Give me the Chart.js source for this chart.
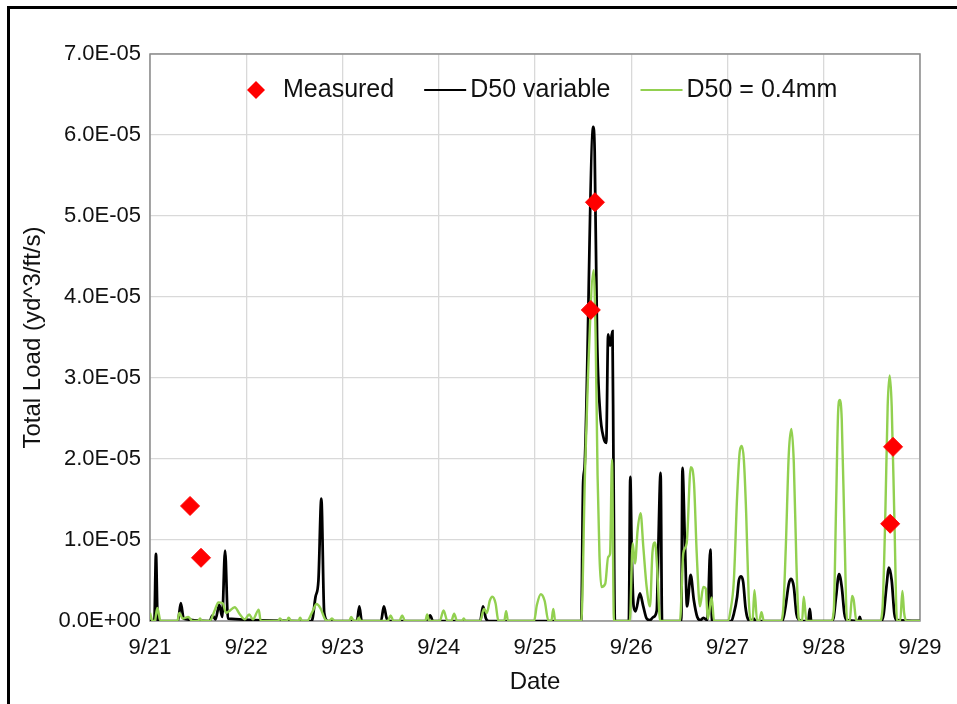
<!DOCTYPE html>
<html>
<head>
<meta charset="utf-8">
<title>Total Load</title>
<script src="https://cdn.jsdelivr.net/npm/chart.js@4.4.0/dist/chart.umd.min.js"></script>
<style>
  html, body { margin: 0; padding: 0; background: #fff; overflow: hidden; }
  #wrap { position: relative; width: 957px; height: 704px; overflow: hidden; }
  #frame { position: absolute; left: 7px; top: 6px; width: 1000px; height: 1000px; border: 3px solid #000; pointer-events: none; }
</style>
</head>
<body>
<div id="wrap">
  <canvas id="chart"></canvas>
  <div id="frame"></div>
</div>
<script>
// x values are days after 9/21 00:00, loads are in units of 1E-06 yd^3/ft/s
const xTickLabels = ['9/21', '9/22', '9/23', '9/24', '9/25', '9/26', '9/27', '9/28', '9/29'];
const yTicks = [0, 10, 20, 30, 40, 50, 60, 70];

const measuredDays = [0.416, 0.53, 4.58, 4.623, 7.69, 7.72];
const measuredLoad = [14.2, 7.8, 38.4, 51.7, 12.0, 21.5];

const variableDays = [
  0, 0.045, 0.062, 0.08, 0.29, 0.32, 0.35, 0.62, 0.65, 0.68, 0.72, 0.75, 0.78, 0.81,
  1.68, 1.72, 1.75, 1.78, 1.81, 1.85, 2.15, 2.175, 2.20, 2.40, 2.43, 2.46, 2.50,
  2.88, 2.91, 2.94, 3.43, 3.46, 3.49, 3.52,
  4.48, 4.50, 4.515, 4.605, 4.62, 4.645, 4.675, 4.715, 4.74, 4.76, 4.78, 4.805, 4.815, 4.83,
  4.975, 4.99, 5.005, 5.025, 5.045, 5.09, 5.125, 5.16, 5.195, 5.23, 5.265, 5.28, 5.305, 5.32,
  5.52, 5.532, 5.556, 5.58, 5.617, 5.65, 5.686, 5.72, 5.75, 5.79, 5.822, 5.84,
  6.04, 6.066, 6.10, 6.118, 6.142, 6.163, 6.187, 6.21, 6.24, 6.273, 6.29,
  6.57, 6.602, 6.637, 6.661, 6.689, 6.716, 6.74, 6.77, 6.84, 6.855, 6.87,
  7.08, 7.104, 7.128, 7.159, 7.187, 7.215, 7.242, 7.36, 7.374, 7.39,
  7.60, 7.623, 7.651, 7.678, 7.706, 7.734, 7.761, 8.0
];
const variableLoad = [
  0, 0, 8.3, 0, 0, 2.2, 0.3, 0, 0.7, 0.2, 2.0, 0.5, 8.7, 0.3,
  0, 3.0, 5.0, 15.1, 1.0, 0, 0, 1.8, 0, 0, 1.8, 0.3, 0,
  0, 0.7, 0, 0, 1.8, 0.3, 0,
  0, 17, 19, 61, 58, 35, 26, 22.5, 22, 35.4, 34, 35.8, 20, 0,
  0, 17.8, 8.4, 1.8, 1.2, 3.4, 1.8, 0.3, 0.1, 0.5, 1.3, 8.4, 18.3, 0,
  0, 18.9, 10.4, 1.8, 5.7, 2.6, 0.5, 0.1, 0.4, 0.1, 8.8, 0,
  0, 0.9, 3.0, 5.0, 5.5, 4.8, 1.7, 0.3, 0, 0.3, 0,
  0, 1.7, 4.6, 5.2, 4.2, 0.9, 0.2, 0, 0, 1.5, 0,
  0, 0.5, 3.0, 5.8, 4.2, 0.9, 0.1, 0, 0.5, 0,
  0, 0.9, 4.2, 6.6, 5.0, 0.9, 0.1, 0
];

const fixedDays = [
  0, 0.028, 0.05, 0.076, 0.11, 0.284, 0.305, 0.34, 0.398, 0.44, 0.50, 0.52, 0.54,
  0.62, 0.675, 0.71, 0.755, 0.79, 0.82, 0.88, 0.935, 0.985, 1.03, 1.07, 1.13, 1.15,
  1.33, 1.35, 1.38, 1.42, 1.44, 1.47, 1.54, 1.56, 1.58,
  1.63, 1.69, 1.73, 1.77, 1.82, 1.86, 1.89, 1.92, 2.07, 2.09, 2.12, 2.15, 2.17, 2.19,
  2.47, 2.50, 2.53, 2.59, 2.62, 2.65, 2.86, 2.88, 2.90, 3.01, 3.05, 3.09, 3.13, 3.16, 3.19,
  3.24, 3.26, 3.28, 3.43, 3.47, 3.50, 3.53, 3.557, 3.59, 3.62, 3.68, 3.70, 3.72,
  3.99, 4.02, 4.06, 4.10, 4.14, 4.17, 4.19, 4.21,
  4.48, 4.52, 4.55, 4.609, 4.63, 4.65, 4.67, 4.69, 4.73, 4.76, 4.78, 4.80, 4.82,
  4.985, 5.015, 5.039, 5.066, 5.097, 5.125, 5.16, 5.195, 5.22, 5.247, 5.27, 5.30,
  5.506, 5.541, 5.576, 5.618, 5.652, 5.68, 5.714, 5.748, 5.774, 5.795, 5.836, 5.86,
  6.003, 6.031, 6.066, 6.10, 6.128, 6.149, 6.17, 6.194, 6.22, 6.239, 6.26, 6.28, 6.308, 6.33, 6.353, 6.377,
  6.55, 6.578, 6.606, 6.637, 6.664, 6.689, 6.716, 6.74, 6.758, 6.775, 6.792, 6.82,
  7.076, 7.104, 7.128, 7.149, 7.166, 7.187, 7.215, 7.242, 7.27, 7.294, 7.311, 7.339,
  7.581, 7.609, 7.64, 7.664, 7.685, 7.706, 7.734, 7.761, 7.795, 7.817, 7.835, 7.858, 8.0
];
const fixedLoad = [
  1.0, 0, 0, 1.6, 0, 0, 1.0, 0.3, 0.5, 0, 0, 0.3, 0,
  0, 1.4, 2.3, 2.2, 1.0, 1.2, 1.7, 0.8, 0.2, 0.8, 0.2, 1.4, 0,
  0, 0.3, 0, 0, 0.4, 0, 0, 0.4, 0,
  0, 1.2, 2.1, 1.6, 0.2, 0, 0.3, 0, 0, 0.5, 0, 0, 0.4, 0,
  0, 0.7, 0, 0, 0.7, 0, 0, 0.8, 0, 0, 1.3, 0, 0, 0.9, 0,
  0, 0.3, 0, 0, 1.5, 1.0, 2.5, 3.0, 2.2, 0, 0, 1.2, 0,
  0, 2.0, 3.3, 2.5, 0, 0, 1.5, 0,
  0, 18.6, 30, 43.3, 35, 18, 8, 4.2, 4.6, 7.9, 8.3, 19.9, 0,
  0, 9.6, 7.1, 11.2, 13.3, 9.2, 4.2, 1.8, 8.4, 9.7, 6.4, 0,
  0, 8.4, 9.6, 19.0, 17, 8.4, 1.8, 4.2, 4.0, 0.3, 2.9, 0,
  0, 1.3, 5, 15.4, 21, 21.6, 19.9, 13.3, 3, 0, 0, 3.8, 0, 0, 1.1, 0,
  0, 1.3, 9.2, 20.7, 23.7, 19.5, 7.1, 0.3, 0, 0, 3.0, 0,
  0, 1.3, 14.1, 25.7, 27.3, 24.9, 11.2, 0, 0, 3.1, 2.6, 0,
  0, 1.3, 13.3, 26.5, 30.3, 26.5, 12.5, 0, 0, 3.7, 1.0, 0, 0
];

const RED = '#ff0000';
const GREEN = '#92d050';
const GRID = '#d9d9d9';
const TEXT = '#111111';
const FONT = "'Liberation Sans', Arial, sans-serif";

Chart.defaults.font.family = FONT;

function toPoints(xs, ys) {
  return xs.map((x, i) => ({ x, y: ys[i] }));
}

// 7.0E-05 style labels (values are in 1E-06 units)
function sci(v) {
  if (Math.abs(v) < 1e-9) return '0.0E+00';
  const [m, e] = (v * 1e-6).toExponential(1).split('e');
  const n = parseInt(e, 10);
  return m + 'E' + (n < 0 ? '-' : '+') + String(Math.abs(n)).padStart(2, '0');
}

// grey box round the plot area
const plotBorder = {
  id: 'plotBorder',
  beforeDatasetsDraw(chart) {
    const { ctx, chartArea: a } = chart;
    ctx.save();
    ctx.strokeStyle = '#8c8c8c';
    ctx.lineWidth = 1.5;
    ctx.strokeRect(a.left, a.top, a.right - a.left, a.bottom - a.top);
    ctx.restore();
  },
};

// legend drawn inside the plot, Excel style
const insideLegend = {
  id: 'insideLegend',
  afterDraw(chart) {
    const { ctx, chartArea } = chart;
    const y = chartArea.top + 36;
    let x = chartArea.left + 97;
    ctx.save();
    ctx.font = '25px ' + FONT;
    ctx.textBaseline = 'middle';
    chart.data.datasets.forEach((ds) => {
      let textX;
      if (ds.showLine === false) {
        const r = 9;
        ctx.fillStyle = ds.pointBackgroundColor;
        ctx.beginPath();
        ctx.moveTo(x + r, y - r);
        ctx.lineTo(x + 2 * r, y);
        ctx.lineTo(x + r, y + r);
        ctx.lineTo(x, y);
        ctx.closePath();
        ctx.fill();
        textX = x + 36;
      } else {
        ctx.strokeStyle = ds.borderColor;
        ctx.lineWidth = 2;
        ctx.beginPath();
        ctx.moveTo(x, y);
        ctx.lineTo(x + 42, y);
        ctx.stroke();
        textX = x + 46;
      }
      ctx.fillStyle = TEXT;
      ctx.fillText(ds.label, textX, y);
      x = textX + ctx.measureText(ds.label).width + 30;
    });
    ctx.restore();
  },
};

new Chart(document.getElementById('chart'), {
  type: 'line',
  data: {
    datasets: [
      {
        label: 'Measured',
        data: toPoints(measuredDays, measuredLoad),
        showLine: false,
        pointStyle: 'rectRot',
        pointRadius: 9.5,
        pointBackgroundColor: RED,
        pointBorderColor: RED,
        pointBorderWidth: 1,
        order: 0,
      },
      {
        label: 'D50 variable',
        data: toPoints(variableDays, variableLoad),
        borderColor: '#000000',
        borderWidth: 2.75,
        pointRadius: 0,
        cubicInterpolationMode: 'monotone',
        order: 2,
      },
      {
        label: 'D50 = 0.4mm',
        data: toPoints(fixedDays, fixedLoad),
        borderColor: GREEN,
        borderWidth: 2.4,
        pointRadius: 0,
        cubicInterpolationMode: 'monotone',
        order: 1,
      },
    ],
  },
  options: {
    responsive: true,
    maintainAspectRatio: false,
    animation: false,
    layout: { padding: { left: 8, top: 54, right: 37, bottom: 0 } },
    plugins: { legend: { display: false }, tooltip: { enabled: false } },
    scales: {
      x: {
        type: 'linear',
        min: 0,
        max: xTickLabels.length - 1,
        afterBuildTicks: (s) => { s.ticks = xTickLabels.map((_, i) => ({ value: i })); },
        ticks: {
          callback: (v) => xTickLabels[v],
          font: { size: 22 },
          color: TEXT,
          padding: 14,
          maxRotation: 0,
          autoSkip: false,
        },
        grid: { color: GRID, lineWidth: 1.3, drawTicks: false },
        border: { display: false },
        title: { display: true, text: 'Date', font: { size: 24 }, color: TEXT, padding: { top: 4, bottom: 7 } },
        afterFit: (s) => { s.height = 83; },
      },
      y: {
        min: yTicks[0],
        max: yTicks[yTicks.length - 1],
        afterBuildTicks: (s) => { s.ticks = yTicks.map((v) => ({ value: v })); },
        ticks: {
          callback: (v) => sci(v),
          font: { size: 22 },
          color: TEXT,
          padding: 9,
        },
        grid: { color: GRID, lineWidth: 1.3, drawTicks: false },
        border: { display: false },
        title: { display: true, text: 'Total Load (yd^3/ft/s)', font: { size: 24 }, color: TEXT, padding: { top: 11, bottom: 4 } },
        afterFit: (s) => { s.width = 142; },
      },
    },
  },
  plugins: [plotBorder, insideLegend],
});
</script>
</body>
</html>
